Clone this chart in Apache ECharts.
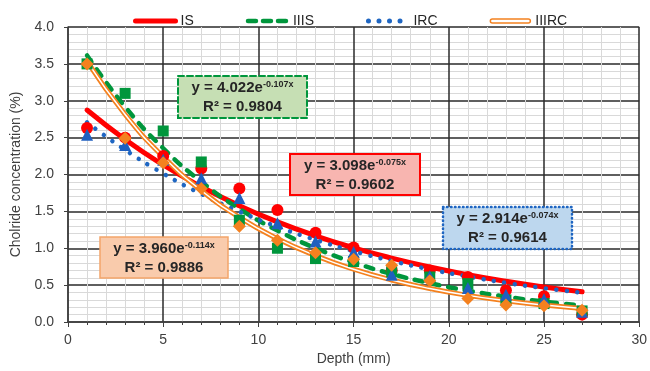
<!DOCTYPE html>
<html><head><meta charset="utf-8">
<script src="https://cdn.jsdelivr.net/npm/echarts@6/dist/echarts.min.js"></script>
<style>html,body{margin:0;padding:0;background:#fff}#c{width:650px;height:371px}</style>
</head><body><div id="c"></div>
<script>
// Depth positions (mm)
const depths = [1,3,5,7,9,11,13,15,17,19,21,23,25,27];
// Measured chloride concentrations (%)
const valIS    = [2.63,2.50,2.25,2.08,1.81,1.52,1.21,1.01,0.70,0.70,0.61,0.43,0.35,0.10];
const valIIIS  = [3.50,3.10,2.59,2.17,1.38,1.00,0.86,0.82,0.68,0.61,0.52,0.30,0.25,0.15];
const valIRC   = [2.54,2.40,2.20,1.95,1.68,1.34,1.09,0.95,0.64,0.62,0.46,0.37,0.31,0.14];
const valIIIRC = [3.50,2.49,2.16,1.81,1.30,1.11,0.94,0.85,0.77,0.56,0.32,0.23,0.22,0.16];
// Trend-line values
const fitIS    = [2.874,2.474,2.129,1.833,1.577,1.358,1.169,1.006,0.866,0.745,0.641,0.552,0.475,0.409];
const fitIIIS  = [3.614,2.918,2.356,1.902,1.535,1.240,1.001,0.808,0.652,0.527,0.425,0.343,0.277,0.224];
const fitIRC   = [2.706,2.334,2.013,1.736,1.497,1.291,1.114,0.960,0.828,0.714,0.616,0.531,0.458,0.395];
const fitIIIRC = [3.533,2.813,2.240,1.783,1.419,1.130,0.900,0.716,0.570,0.454,0.361,0.288,0.229,0.182];
// Series names and equation labels
const names   = ['IS','IIIS','IRC','IIIRC'];
const eqCoef  = ['3.098','4.022','2.914','3.960'];
const eqExp   = ['-0.075x','-0.107x','-0.074x','-0.114x'];
const eqR2    = ['0.9602','0.9804','0.9614','0.9886'];

const pts = arr => depths.map((d,i)=>[d, arr[i]]);
const FONT = '"Liberation Sans", Arial, sans-serif';
const C = {IS:'#FF0000', IIIS:'#00963C', IRC:'#1F66C2', IIIRC:'#F4811F'};

function lineSeries(name, data, color, width, type, cap, z){
  return {type:'line', name, data:pts(data), smooth:true, symbol:'none', silent:true, z,
    itemStyle:{color}, lineStyle:{color, width, type, cap, join:'round'}};
}
function scatterSeries(name, data, color, symbol, size, z){
  return {type:'scatter', name:name+' data', data:pts(data), symbol, symbolSize:size, z,
    itemStyle:{color, opacity:1}};
}

function eqBox(i, x, y, w, h, fill, stroke, dash, lw){
  const rich = {
    m:{fontSize:15, fontWeight:'bold', fill:'#262626', fontFamily:FONT},
    s:{fontSize:9, fontWeight:'bold', fill:'#262626', fontFamily:FONT, verticalAlign:'top'}
  };
  return [
    {type:'rect', shape:{x, y, width:w, height:h}, z:100,
      style:{fill, stroke, lineWidth:lw, lineDash:dash, lineCap:'round'}},
    {type:'text', x:x+w/2, y:y+h/2-9, z:101,
      style:{text:'{m|y = '+eqCoef[i]+'e}{s|'+eqExp[i]+'}', align:'center', verticalAlign:'middle', rich}},
    {type:'text', x:x+w/2, y:y+h/2+10, z:101,
      style:{text:'{m|R² = '+eqR2[i]+'}', align:'center', verticalAlign:'middle', rich}}
  ];
}

const chart = echarts.init(document.getElementById('c'), null, {renderer:'canvas'});
chart.setOption({
  animation:false,
  backgroundColor:'#fff',
  textStyle:{fontFamily:FONT},
  grid:{left:68, right:5, top:27, bottom:49},
  legend:{
    left:128, top:9, itemWidth:40, itemHeight:12, itemGap:52,
    textStyle:{fontSize:14, color:'#262626', fontFamily:FONT},
    data:[
      {name:names[0], itemStyle:{opacity:0}, lineStyle:{width:5, cap:'round'}},
      {name:names[1], itemStyle:{opacity:0}, lineStyle:{width:4.5, type:[8,7], cap:'round'}},
      {name:names[2], itemStyle:{opacity:0}, lineStyle:{width:5, type:[0.01,10.5], cap:'round'}},
      {name:names[3], icon:'path://M2,0 H38 A2,2 0 0 1 38,4 H2 A2,2 0 0 1 2,0 Z',
        itemStyle:{color:'#fff', borderColor:C.IIIRC, borderWidth:1.5}}
    ]
  },
  xAxis:{
    type:'value', min:0, max:30, interval:5,
    name:'Depth (mm)', nameLocation:'middle', nameGap:28,
    nameTextStyle:{fontSize:14, color:'#404040', fontFamily:FONT},
    axisLine:{show:true, lineStyle:{color:'#404040', width:1.5}},
    axisTick:{show:true, length:5, lineStyle:{color:'#404040'}},
    minorTick:{show:true, splitNumber:5, length:3, lineStyle:{color:'#404040'}},
    axisLabel:{fontSize:14, color:'#404040', margin:11, fontFamily:FONT},
    splitLine:{show:true, lineStyle:{color:'#2a2a2a', width:1.5}},
    minorSplitLine:{show:true, lineStyle:{color:'#d9d9d9', width:1}}
  },
  yAxis:{
    type:'value', min:0, max:4, interval:0.5,
    name:'Cholride concentration (%)', nameLocation:'middle', nameGap:45,
    nameTextStyle:{fontSize:14, color:'#404040', fontFamily:FONT},
    axisLine:{show:true, lineStyle:{color:'#404040', width:1.5}},
    axisTick:{show:true, length:4, lineStyle:{color:'#404040'}},
    minorTick:{show:false},
    axisLabel:{fontSize:14, color:'#404040', margin:14, fontFamily:FONT, formatter:v=>v.toFixed(1)},
    splitLine:{show:true, lineStyle:{color:'#2a2a2a', width:1.5}},
    minorSplitLine:{show:true, lineStyle:{color:'#d9d9d9', width:1}}
  },
  series:[
    lineSeries(names[0], fitIS, C.IS, 5, 'solid', 'round', 3),
    lineSeries(names[1], fitIIIS, C.IIIS, 4.5, [8,9], 'round', 4),
    lineSeries(names[2], fitIRC, C.IRC, 4.5, [0.01,10.5], 'round', 5),
    lineSeries(names[3], fitIIIRC, C.IIIRC, 5, 'solid', 'round', 6),
    {type:'line', name:'IIIRC inner', data:pts(fitIIIRC), smooth:true, symbol:'none', silent:true, z:7,
      lineStyle:{color:'#fff', width:1.5, cap:'round'}},
    scatterSeries(names[0], valIS, '#FF0000', 'circle', 12, 8),
    scatterSeries(names[1], valIIIS, '#00963C', 'rect', 11, 9),
    scatterSeries(names[2], valIRC, '#1F5FBF', 'triangle', 12, 10),
    scatterSeries(names[3], valIIIRC, '#F4811F', 'diamond', 13, 11)
  ],
  graphic:[].concat(
    eqBox(1, 178, 76, 129, 42, '#C6DFB4', C.IIIS, [6,3], 2),
    eqBox(0, 290, 154, 130, 41, '#F8B5B0', C.IS, null, 2),
    eqBox(2, 443, 207, 129, 42, '#BDD7EE', C.IRC, [0.5,3.5], 2.5),
    eqBox(3, 100, 237, 128, 41, '#F9CBAC', '#F4A56A', null, 1.5)
  )
});
</script>
</body></html>
